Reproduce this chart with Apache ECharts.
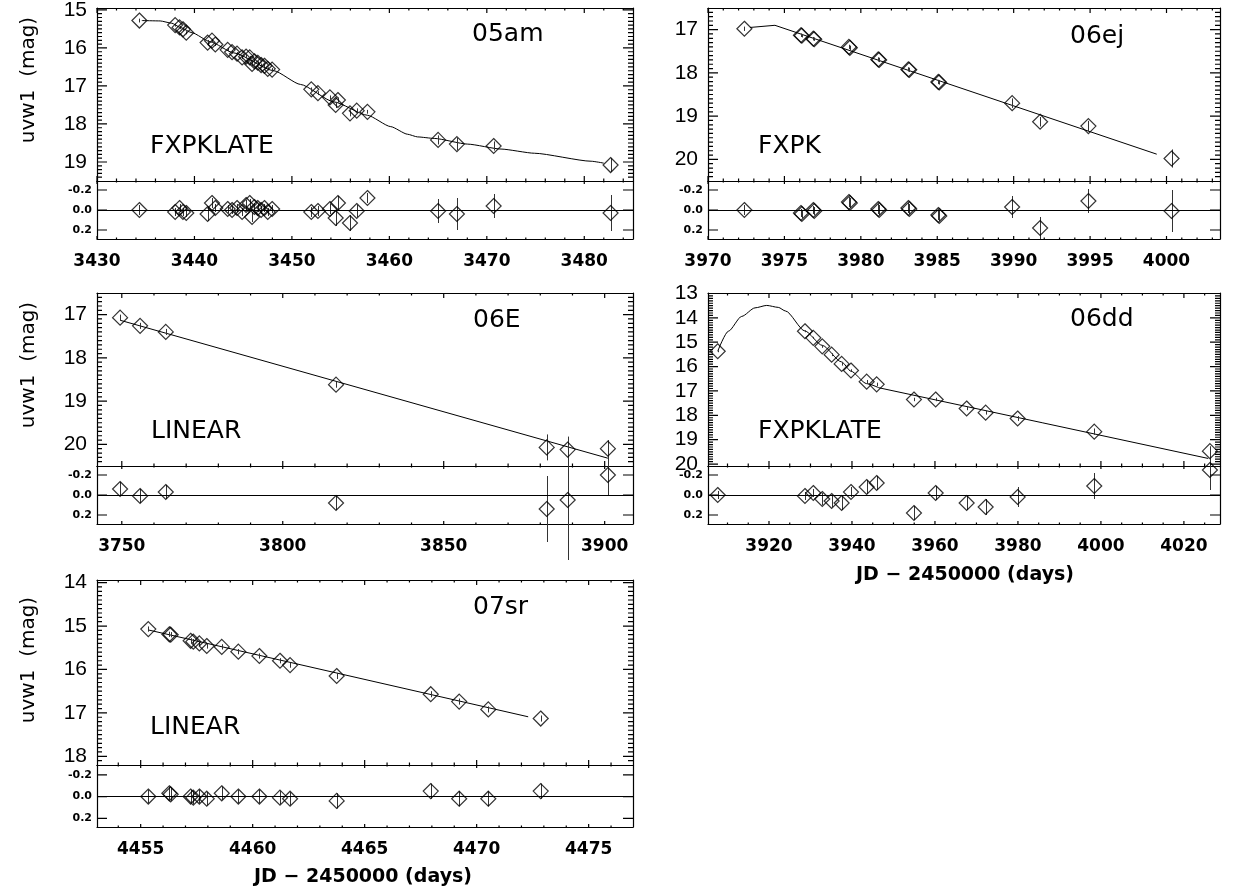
<!DOCTYPE html>
<html><head><meta charset="utf-8">
<script src="https://cdn.jsdelivr.net/npm/echarts@6/dist/echarts.min.js"></script>
<style>html,body{margin:0;padding:0;background:#fff}#c{width:1246px;height:892px}</style>
</head><body><div id="c"></div>
<script>
// ================= DATA =================
// SN 2005am
const sn05amDays = [3434.35, 3438.02, 3438.47, 3438.82, 3439.16, 3441.35, 3441.80, 3442.14, 3443.41, 3443.86, 3444.37, 3444.89, 3445.30, 3445.67, 3445.91, 3446.15, 3446.49, 3446.84, 3447.18, 3447.52, 3447.97, 3451.99, 3452.67, 3453.90, 3454.72, 3454.49, 3455.96, 3456.65, 3457.75, 3465.00, 3466.93, 3470.70, 3482.70];
const sn05amMag = [15.28, 15.40, 15.46, 15.51, 15.60, 15.86, 15.81, 15.91, 16.05, 16.11, 16.15, 16.25, 16.23, 16.25, 16.42, 16.35, 16.39, 16.45, 16.47, 16.55, 16.57, 17.09, 17.19, 17.30, 17.37, 17.50, 17.72, 17.65, 17.68, 18.42, 18.53, 18.58, 19.08];
const sn05amErr = [0.05, 0.04, 0.04, 0.04, 0.04, 0.07, 0.05, 0.04, 0.04, 0.04, 0.04, 0.04, 0.05, 0.04, 0.05, 0.04, 0.04, 0.04, 0.04, 0.04, 0.04, 0.05, 0.05, 0.05, 0.07, 0.08, 0.08, 0.06, 0.05, 0.12, 0.16, 0.12, 0.18];
const sn05amRes = [0.00, 0.02, -0.02, 0.02, 0.03, 0.04, -0.07, -0.02, -0.01, 0.00, -0.02, 0.02, -0.05, -0.07, 0.07, -0.03, -0.02, 0.00, -0.02, 0.02, -0.01, 0.02, 0.01, -0.01, -0.07, 0.08, 0.13, 0.01, -0.12, 0.01, 0.04, -0.04, 0.03];
const sn05amFitDays = [3434.6, 3436.48, 3437.68, 3438.54, 3439.74, 3441.63, 3444.03, 3448.14, 3450.88, 3454.31, 3457.74, 3460.14, 3461.86, 3462.89, 3464.6, 3468.04, 3471.46, 3474.89, 3480.7, 3482.0];
const sn05amFitMag = [15.28, 15.29, 15.35, 15.46, 15.60, 15.84, 16.13, 16.60, 16.96, 17.42, 17.77, 18.07, 18.27, 18.34, 18.38, 18.53, 18.66, 18.77, 18.98, 19.03];
const sn05amXTicks = [3430, 3440, 3450, 3460, 3470, 3480];
const sn05amYTicks = [15, 16, 17, 18, 19];

// SN 2006ej
const sn06ejDays = [3972.38, 3976.08, 3976.14, 3976.89, 3976.95, 3979.22, 3979.28, 3981.14, 3981.20, 3983.11, 3983.17, 3985.07, 3985.13, 3989.90, 3991.73, 3994.89, 4000.33];
const sn06ejMag = [16.98, 17.13, 17.14, 17.21, 17.22, 17.40, 17.42, 17.69, 17.70, 17.92, 17.93, 18.21, 18.22, 18.70, 19.13, 19.23, 19.98];
const sn06ejErr = [0.05, 0.04, 0.04, 0.04, 0.04, 0.05, 0.05, 0.05, 0.05, 0.05, 0.05, 0.05, 0.05, 0.11, 0.11, 0.12, 0.21];
const sn06ejRes = [0.00, 0.03, 0.04, 0.00, 0.01, -0.08, -0.07, -0.01, 0.00, -0.02, -0.01, 0.05, 0.06, -0.03, 0.18, -0.09, 0.01];
const sn06ejFitDays = [3972.75, 3974.38, 3999.36];
const sn06ejFitMag = [16.95, 16.90, 19.88];
const sn06ejXTicks = [3970, 3975, 3980, 3985, 3990, 3995, 4000];
const sn06ejYTicks = [17, 18, 19, 20];

// SN 2006E
const sn06EDays = [3749.47, 3755.68, 3763.66, 3816.55, 3881.99, 3888.51, 3901.0];
const sn06EMag = [17.07, 17.26, 17.40, 18.62, 20.07, 20.12, 20.10];
const sn06EErr = [0.07, 0.07, 0.07, 0.07, 0.30, 0.30, 0.20];
const sn06ERes = [-0.06, 0.01, -0.03, 0.08, 0.14, 0.05, -0.20];
const sn06EResErr = [0.07, 0.07, 0.07, 0.07, 0.33, 0.60, 0.20];
const sn06EFitDays = [3749.47, 3901.0];
const sn06EFitMag = [17.13, 20.32];
const sn06EXTicks = [3750, 3800, 3850, 3900];
const sn06EYTicks = [17, 18, 19, 20];

// SN 2006dd
const sn06ddDays = [3907.64, 3928.67, 3930.68, 3932.84, 3935.10, 3937.51, 3939.76, 3943.54, 3945.95, 3954.94, 3960.17, 3967.64, 3972.22, 3979.93, 3998.39, 4026.27];
const sn06ddMag = [15.37, 14.55, 14.82, 15.17, 15.51, 15.89, 16.16, 16.62, 16.73, 17.35, 17.35, 17.72, 17.89, 18.13, 18.67, 19.47];
const sn06ddErr = [0.04, 0.04, 0.04, 0.06, 0.06, 0.07, 0.05, 0.07, 0.07, 0.07, 0.07, 0.07, 0.08, 0.10, 0.13, 0.20];
const sn06ddRes = [0.00, 0.01, -0.02, 0.04, 0.06, 0.08, -0.03, -0.08, -0.12, 0.18, -0.02, 0.08, 0.12, 0.02, -0.09, -0.25];
const sn06ddFitDays = [3907.64, 3910.2, 3913.42, 3916.63, 3919.45, 3922.24, 3924.0, 3928.67, 3932.84, 3937.51, 3939.76, 3943.54, 3946.5, 3986.0, 4025.86];
const sn06ddFitMag = [15.37, 14.55, 13.94, 13.59, 13.49, 13.57, 13.72, 14.54, 15.13, 15.81, 16.19, 16.70, 16.87, 18.31, 19.77];
const sn06ddXTicks = [3920, 3940, 3960, 3980, 4000, 4020];
const sn06ddYTicks = [13, 14, 15, 16, 17, 18, 19, 20];

// SN 2007sr
const sn07srDays = [4455.34, 4456.28, 4456.34, 4457.23, 4457.35, 4457.62, 4457.95, 4458.62, 4459.36, 4460.30, 4461.22, 4461.67, 4463.75, 4467.95, 4469.22, 4470.52, 4472.86];
const sn07srMag = [15.07, 15.19, 15.20, 15.34, 15.36, 15.40, 15.46, 15.48, 15.59, 15.69, 15.80, 15.90, 16.15, 16.57, 16.74, 16.92, 17.13];
const sn07srErr = [0.06, 0.06, 0.06, 0.06, 0.06, 0.06, 0.06, 0.06, 0.06, 0.06, 0.06, 0.06, 0.07, 0.07, 0.07, 0.07, 0.07];
const sn07srRes = [0.00, -0.03, -0.02, 0.00, 0.01, 0.00, 0.02, -0.03, 0.00, 0.00, 0.01, 0.02, 0.04, -0.05, 0.02, 0.02, -0.05];
const sn07srFitDays = [4455.34, 4472.30];
const sn07srFitMag = [15.09, 17.09];
const sn07srXTicks = [4455, 4460, 4465, 4470, 4475];
const sn07srYTicks = [14, 15, 16, 17, 18];

const residualTicks = [-0.2, 0.0, 0.2];
const yAxisTitle = 'uvw1  (mag)';
const xAxisTitle = 'JD − 2450000 (days)';

// ================= LAYOUT =================
const FONT = '"DejaVu Sans", sans-serif';
const FONT_Y = '"Liberation Sans", Arial, sans-serif';

// smoothUntil: index of the fit point after which the model is a straight segment
const panels = [
  {main:[97,8,536,173],  res:[97,181,536,58],  xr:[3430,3485],     yr:[14.95,19.50], rr:[-0.29,0.29], xt:sn05amXTicks, xms:2,  yt:sn05amYTicks,
   d:sn05amDays, m:sn05amMag, e:sn05amErr, r:sn05amRes, re:sn05amErr, fd:sn05amFitDays, fm:sn05amFitMag, smooth:0.2},
  {main:[708,8,512,173], res:[708,181,512,58], xr:[3970,4003.5],   yr:[16.5,20.5],   rr:[-0.29,0.29], xt:sn06ejXTicks, xms:1,  yt:sn06ejYTicks,
   d:sn06ejDays, m:sn06ejMag, e:sn06ejErr, r:sn06ejRes, re:sn06ejErr, fd:sn06ejFitDays, fm:sn06ejFitMag, smooth:false},
  {main:[97,293,536,173],res:[97,466,536,58],  xr:[3742.3,3908.8], yr:[16.5,20.5],   rr:[-0.29,0.29], xt:sn06EXTicks,  xms:10, yt:sn06EYTicks,
   d:sn06EDays, m:sn06EMag, e:sn06EErr, r:sn06ERes, re:sn06EResErr, fd:sn06EFitDays, fm:sn06EFitMag, smooth:false},
  {main:[708,293,512,173],res:[708,466,512,58],xr:[3905.3,4028.7], yr:[12.98,20.08], rr:[-0.29,0.29], xt:sn06ddXTicks, xms:5,  yt:sn06ddYTicks,
   d:sn06ddDays, m:sn06ddMag, e:sn06ddErr, r:sn06ddRes, re:sn06ddErr, fd:sn06ddFitDays, fm:sn06ddFitMag, smooth:0.25, smoothUntil:12},
  {main:[97,580,536,185],res:[97,765,536,62],  xr:[4453.05,4476.98],yr:[13.94,18.2], rr:[-0.29,0.28], xt:sn07srXTicks, xms:1,  yt:sn07srYTicks,
   d:sn07srDays, m:sn07srMag, e:sn07srErr, r:sn07srRes, re:sn07srErr, fd:sn07srFitDays, fm:sn07srFitMag, smooth:false}
];

const texts = [
  {t:'05am', x:472, y:34}, {t:'FXPKLATE', x:150, y:146},
  {t:'06ej', x:1070, y:36}, {t:'FXPK', x:758, y:146},
  {t:'06E', x:473, y:320}, {t:'LINEAR', x:151, y:431},
  {t:'06dd', x:1070, y:319}, {t:'FXPKLATE', x:758, y:431},
  {t:'07sr', x:473, y:607}, {t:'LINEAR', x:150, y:727}
];
const yTitles = [80, 365, 660];
const xTitles = [[965, 575], [363, 877]];

// ================= BUILD =================
const option = {animation:false, backgroundColor:'#fff', textStyle:{fontFamily:FONT},
  grid:[], xAxis:[], yAxis:[], series:[], graphic:[]};

function minorValues(min, max, step, majors) {
  const out = [];
  if (!step) return out;
  const s = Math.ceil(min / step - 1e-9), en = Math.floor(max / step + 1e-9);
  for (let k = s; k <= en; k++) {
    const v = +(k * step).toFixed(6);
    if (v <= min || v >= max) continue;
    if (majors.some(mj => Math.abs(mj - v) < step * 1e-3)) continue;
    out.push(v);
  }
  return out;
}
const lineOn = {show:true, onZero:false, lineStyle:{color:'#000', width:1.2}};

// Tick marks drawn as short line segments (broken by empty points) in the grid's own axes
function tickSeries(xi, yi, box, xr, yr, xt, xMinor, yt, yMinor, o) {
  const dxPerPx = (xr[1] - xr[0]) / box[2];
  const dyPerPx = (yr[1] - yr[0]) / box[3];
  const data = [];
  const gap = () => data.push(['-', '-']);
  const addX = (v, len) => {
    const d = len * dyPerPx;
    data.push([v, yr[1]], [v, yr[1] - d]); gap();
    data.push([v, yr[0]], [v, yr[0] + d]); gap();
  };
  const addY = (v, len) => {
    const d = len * dxPerPx;
    data.push([xr[0], v], [xr[0] + d, v]); gap();
    data.push([xr[1], v], [xr[1] - d, v]); gap();
  };
  xt.forEach(v => addX(v, o.xLen));
  xMinor.forEach(v => addX(v, o.xMinLen));
  yt.forEach(v => addY(v, o.yLen));
  yMinor.forEach(v => addY(v, o.yMinLen));
  return {type:'line', xAxisIndex:xi, yAxisIndex:yi, symbol:'none', showSymbol:false, silent:true,
    clip:false, connectNulls:false, z:4, lineStyle:{color:'#000', width:1.2}, data};
}

function addFrame(box, xr, yr, xt, xms, yt, yms, o) {
  option.grid.push({left:box[0], top:box[1], width:box[2], height:box[3], containLabel:false, outerBoundsMode:'none'});
  const g = option.grid.length - 1;
  let xi, yi;
  ['bottom', 'top'].forEach((pos, i) => {
    option.xAxis.push({gridIndex:g, type:'value', position:pos, min:xr[0], max:xr[1], silent:true,
      splitLine:{show:false}, axisLine:lineOn, axisTick:{show:false},
      axisLabel:(pos === 'bottom' && o.xLabels) ? {show:true, customValues:xt, margin:14, color:'#000',
        fontFamily:FONT, fontWeight:'bold', fontSize:17, formatter:v => String(Math.round(v))} : {show:false}});
    if (i === 0) xi = option.xAxis.length - 1;
  });
  ['left', 'right'].forEach((pos, i) => {
    option.yAxis.push({gridIndex:g, type:'value', position:pos, min:yr[0], max:yr[1], inverse:true, silent:true,
      splitLine:{show:false}, axisLine:lineOn, axisTick:{show:false},
      axisLabel:(pos === 'left') ? Object.assign({show:true, customValues:yt, color:'#000'}, o.yLabel) : {show:false}});
    if (i === 0) yi = option.yAxis.length - 1;
  });
  option.series.push(tickSeries(xi, yi, box, xr, yr, xt, minorValues(xr[0], xr[1], xms, xt), yt,
    minorValues(yr[0], yr[1], yms, yt), o));
  return [xi, yi];
}

function errSeries(xi, yi, xs, ys, es) {
  return {type:'custom', xAxisIndex:xi, yAxisIndex:yi, clip:false, silent:true, z:2,
    encode:{x:0, y:1},
    data: xs.map((x, i) => [x, ys[i], es[i]]),
    renderItem:(params, api) => {
      const x = api.value(0), y = api.value(1), e = api.value(2);
      const a = api.coord([x, y - e]), b = api.coord([x, y + e]);
      const px = Math.round(a[0]) + 0.5;
      return {type:'line', shape:{x1:px, y1:a[1], x2:px, y2:b[1]}, style:{stroke:'#333', lineWidth:1}};
    }};
}
function diamonds(xi, yi, xs, ys, extra) {
  return Object.assign({type:'scatter', xAxisIndex:xi, yAxisIndex:yi, symbol:'diamond', symbolSize:15, silent:true, z:3,
    itemStyle:{color:'rgba(255,255,255,0)', borderColor:'#000', borderWidth:1.2},
    data: xs.map((x, i) => [x, ys[i]])}, extra || {});
}
function fitLine(xi, yi, xs, ys, smooth) {
  return {type:'line', xAxisIndex:xi, yAxisIndex:yi, symbol:'none', showSymbol:false, silent:true, z:1,
    smooth:smooth, smoothMonotone:'x', lineStyle:{color:'#000', width:1},
    data:xs.map((x, i) => [x, ys[i]])};
}

panels.forEach(p => {
  const [mx, my] = addFrame(p.main, p.xr, p.yr, p.xt, p.xms, p.yt, 0.1,
    {xLen:5, xMinLen:2.5, yLen:10, yMinLen:5, xLabels:false,
     yLabel:{margin:10, fontFamily:FONT_Y, fontSize:21, formatter:v => String(Math.round(v))}});
  const [rx, ry] = addFrame(p.res, p.xr, p.rr, p.xt, p.xms, residualTicks, 0,
    {xLen:3, xMinLen:1.5, yLen:10, yMinLen:0, xLabels:true,
     yLabel:{margin:5, fontFamily:FONT, fontWeight:'bold', fontSize:11, formatter:v => (Math.abs(v) < 1e-9 ? 0 : v).toFixed(1)}});
  if (p.smoothUntil !== undefined) {
    const k = p.smoothUntil;
    option.series.push(fitLine(mx, my, p.fd.slice(0, k + 1), p.fm.slice(0, k + 1), p.smooth));
    option.series.push(fitLine(mx, my, p.fd.slice(k), p.fm.slice(k), false));
  } else {
    option.series.push(fitLine(mx, my, p.fd, p.fm, p.smooth));
  }
  option.series.push(errSeries(mx, my, p.d, p.m, p.e));
  option.series.push(diamonds(mx, my, p.d, p.m));
  option.series.push(errSeries(rx, ry, p.d, p.r, p.re));
  option.series.push(diamonds(rx, ry, p.d, p.r, {
    markLine:{silent:true, symbol:['none', 'none'], label:{show:false}, animation:false,
      lineStyle:{color:'#000', width:1, type:'solid'}, data:[{yAxis:0}]}}));
});

texts.forEach(t => option.graphic.push({type:'text', x:t.x, y:t.y, silent:true,
  style:{text:t.t, font:'25px ' + FONT, fill:'#000', textAlign:'left', textVerticalAlign:'middle'}}));
yTitles.forEach(y => option.graphic.push({type:'text', x:29, y:y, rotation:Math.PI / 2, silent:true,
  style:{text:yAxisTitle, font:'20px ' + FONT, fill:'#000', textAlign:'center', textVerticalAlign:'middle'}}));
xTitles.forEach(c => option.graphic.push({type:'text', x:c[0], y:c[1], silent:true,
  style:{text:xAxisTitle, font:'bold 19px ' + FONT, fill:'#000', textAlign:'center', textVerticalAlign:'middle'}}));

const chart = echarts.init(document.getElementById('c'), null, {renderer:'canvas'});
chart.setOption(option);
</script>
</body></html>
